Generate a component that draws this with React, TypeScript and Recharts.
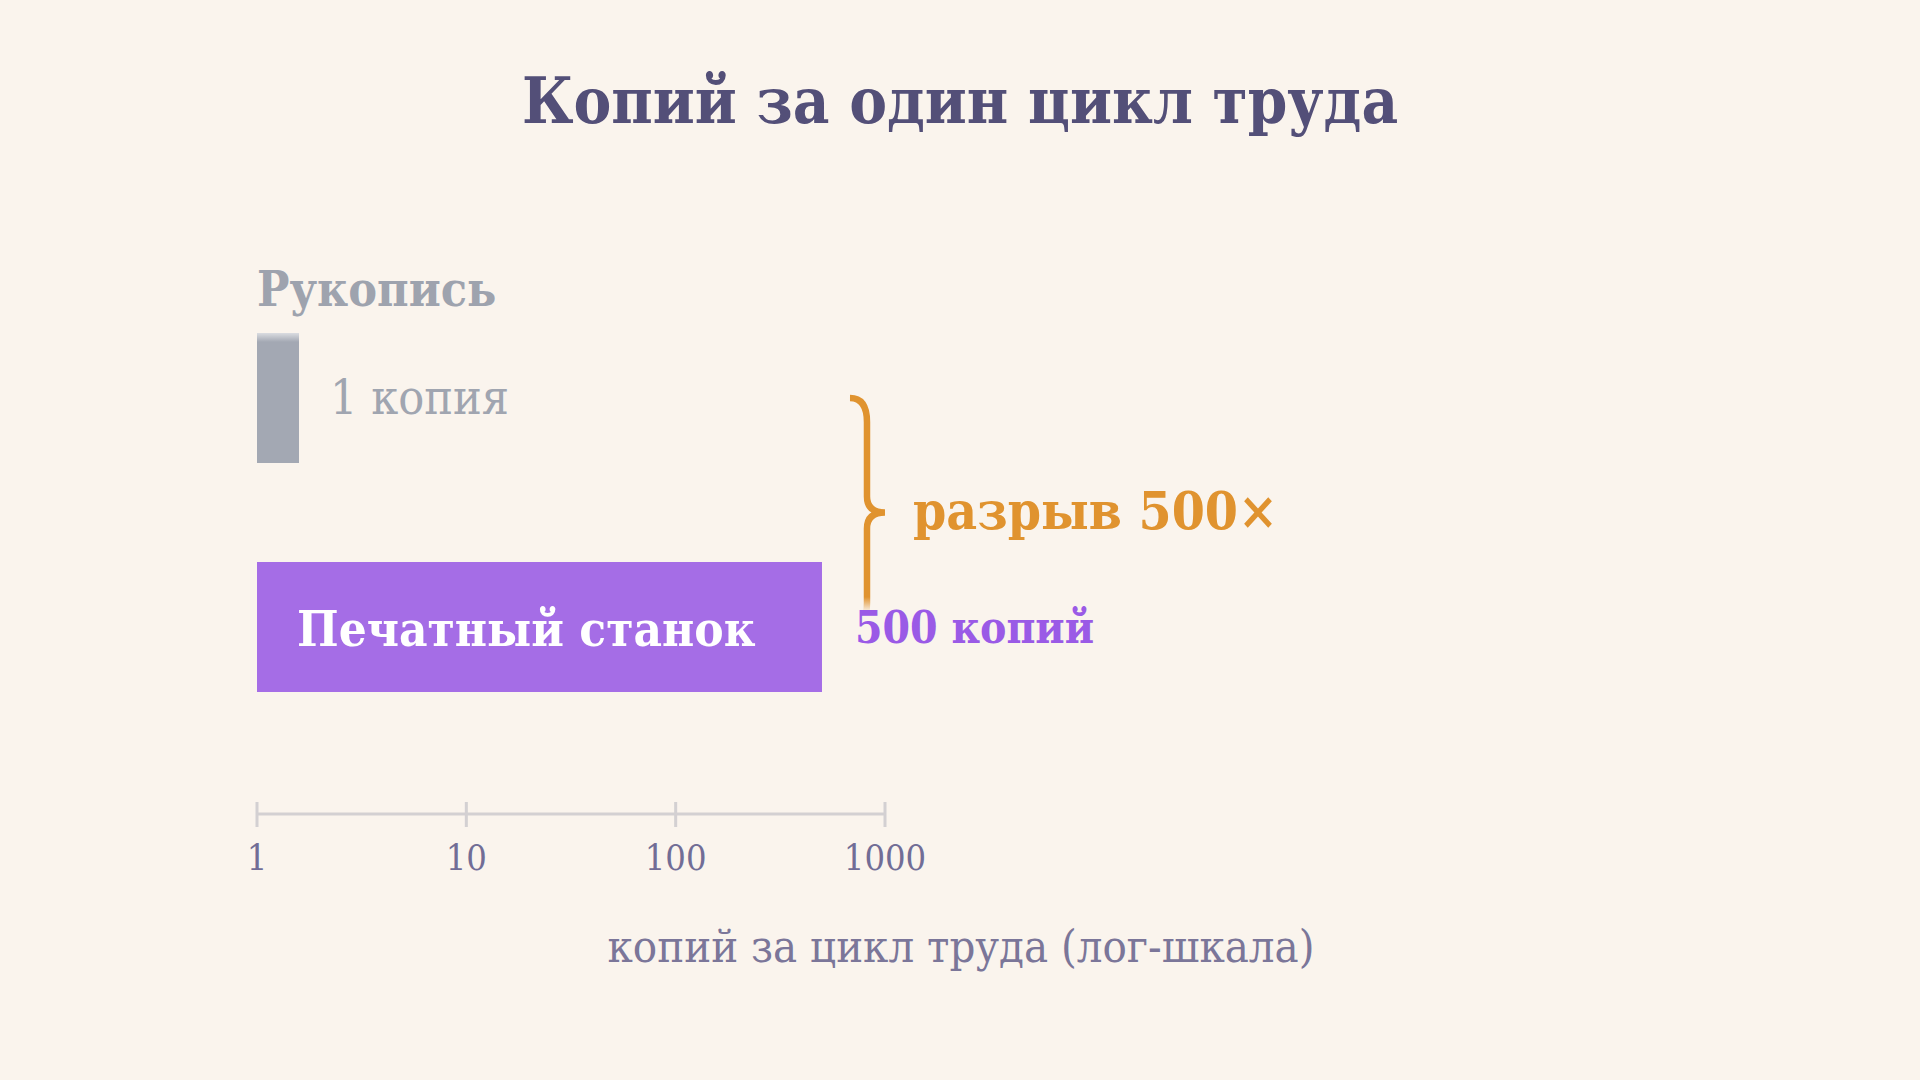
import React from "react";
import { BarChart, Bar, XAxis, YAxis, Cell, LabelList } from "recharts";

const categories = ["Рукопись", "Печатный станок"];
const copies = [1, 500];
const copyLabels = ["1 копия", "500 копий"];
const gapLabel = "разрыв 500×";
const tickValues = [1, 10, 100, 1000];
const chartTitle = "Копий за один цикл труда";
const axisTitle = "копий за цикл труда (лог-шкала)";

const data = categories.map((name, i) => ({ name, copies: copies[i], label: copyLabels[i] }));

const W = 1920;
const H = 1080;
const MARGIN = { top: 283, right: 1035, bottom: 166, left: 257 };
const XAXIS_H = 100;
const PAD_BOTTOM = 73;
const BAND = (H - MARGIN.top - MARGIN.bottom - XAXIS_H - PAD_BOTTOM) / categories.length;

const BG = "#faf4ed";
const FONT = "'DejaVu Serif Condensed', 'DejaVu Serif', serif";
const barColors = ["#a3a8b3", "#a56de6"];
const ORANGE = "#e0932f";

const AxisTick = (props: any) => {
  const { x, y, payload } = props;
  return (
    <g>
      <line x1={x} x2={x} y1={y - 12} y2={y + 13} stroke="#d3d0d2" strokeWidth={3} />
      <text x={x} y={y + 56} textAnchor="middle" fontSize={36} fill="#716d96" fontFamily={FONT} style={{ fontStretch: "condensed" }}>
        {payload.value}
      </text>
    </g>
  );
};

const BarShape = (props: any) => {
  const { x, y, width, height, fill, index } = props;
  return (
    <g>
      <rect x={x} y={y} width={width} height={height} fill={fill} />
      {index === 0 && <rect x={x} y={y} width={width} height={9} fill="url(#barGlow)" />}
    </g>
  );
};

const renderLabel = (props: any) => {
  const vb = props.viewBox || {};
  const x = props.x ?? vb.x;
  const y = props.y ?? vb.y;
  const width = props.width ?? vb.width;
  const height = props.height ?? vb.height;
  const i = props.index;
  const right = x + width;
  const cy = y + height / 2;
  const st = { fontStretch: "condensed" as const };

  if (i === 0) {
    return (
      <g>
        <text x={x} y={y - 27} fontSize={48} fontWeight="bold" fill="#9ea3ae" fontFamily={FONT} style={st}>
          {categories[i]}
        </text>
        <text x={right + 31} y={cy + 16} fontSize={48} fill="#a0a5b0" fontFamily={FONT} style={st}>
          {copyLabels[i]}
        </text>
      </g>
    );
  }

  // brace from the previous bar's centre to this one
  const top = cy - BAND;
  const mid = cy - BAND / 2;
  const xv = right + 45;
  const xl = xv - 17;
  const xt = xv + 18;
  const brace = `M ${xl} ${top} Q ${xv} ${top} ${xv} ${top + 24} L ${xv} ${mid - 16} Q ${xv} ${mid} ${xt} ${mid} Q ${xv} ${mid} ${xv} ${mid + 16} L ${xv} ${cy - 24} Q ${xv} ${cy} ${xl} ${cy}`;

  return (
    <g>
      <path d={brace} fill="none" stroke={ORANGE} strokeWidth={6.5} />
      <text x={xt + 28} y={mid + 16} fontSize={53} fontWeight="bold" fill={ORANGE} fontFamily={FONT} style={st}>
        {gapLabel}
      </text>
      <rect x={right + 26} y={cy - 30} width={270} height={60} fill="url(#labelBg)" />
      <text x={right + 33} y={cy + 16} fontSize={44} fontWeight="bold" fill="#9a5ae6" fontFamily={FONT} style={st}>
        {copyLabels[i]}
      </text>
      <text x={x + 40} y={cy + 19} fontSize={49} fontWeight="bold" fill="#ffffff" fontFamily={FONT} style={st}>
        {categories[i]}
      </text>
    </g>
  );
};

export default function App() {
  return (
    <div style={{ position: "absolute", top: 0, left: 0, width: W, height: H, background: BG }}>
      <BarChart width={W} height={H} data={data} layout="vertical" margin={MARGIN}>
        <defs>
          <linearGradient id="barGlow" x1="0" y1="0" x2="0" y2="1">
            <stop offset="0%" stopColor="#ffffff" stopOpacity={0.6} />
            <stop offset="100%" stopColor="#ffffff" stopOpacity={0} />
          </linearGradient>
          <linearGradient id="labelBg" x1="0" y1="0" x2="0" y2="1">
            <stop offset="0%" stopColor={BG} stopOpacity={0} />
            <stop offset="25%" stopColor={BG} stopOpacity={1} />
            <stop offset="100%" stopColor={BG} stopOpacity={1} />
          </linearGradient>
        </defs>
        <text x={W / 2} y={123} textAnchor="middle" fontSize={63} fontWeight="bold" fill="#534f78" fontFamily={FONT} style={{ fontStretch: "condensed" }}>
          {chartTitle}
        </text>
        <text x={961} y={962} textAnchor="middle" fontSize={45} fill="#7b7699" fontFamily={FONT} style={{ fontStretch: "condensed" }}>
          {axisTitle}
        </text>
        <XAxis
          type="number"
          scale="log"
          domain={[1, 1000]}
          ticks={tickValues}
          allowDataOverflow
          height={XAXIS_H}
          axisLine={{ stroke: "#d3d0d2", strokeWidth: 3 }}
          tickLine={false}
          tickSize={0}
          tickMargin={0}
          tick={<AxisTick />}
          interval={0}
        />
        <YAxis type="category" dataKey="name" hide padding={{ top: 0, bottom: PAD_BOTTOM }} />
        <Bar dataKey="copies" barSize={130} minPointSize={42} isAnimationActive={false} shape={<BarShape />}>
          {data.map((d, i) => (
            <Cell key={d.name} fill={barColors[i]} />
          ))}
          <LabelList dataKey="copies" content={renderLabel} />
        </Bar>
      </BarChart>
    </div>
  );
}
